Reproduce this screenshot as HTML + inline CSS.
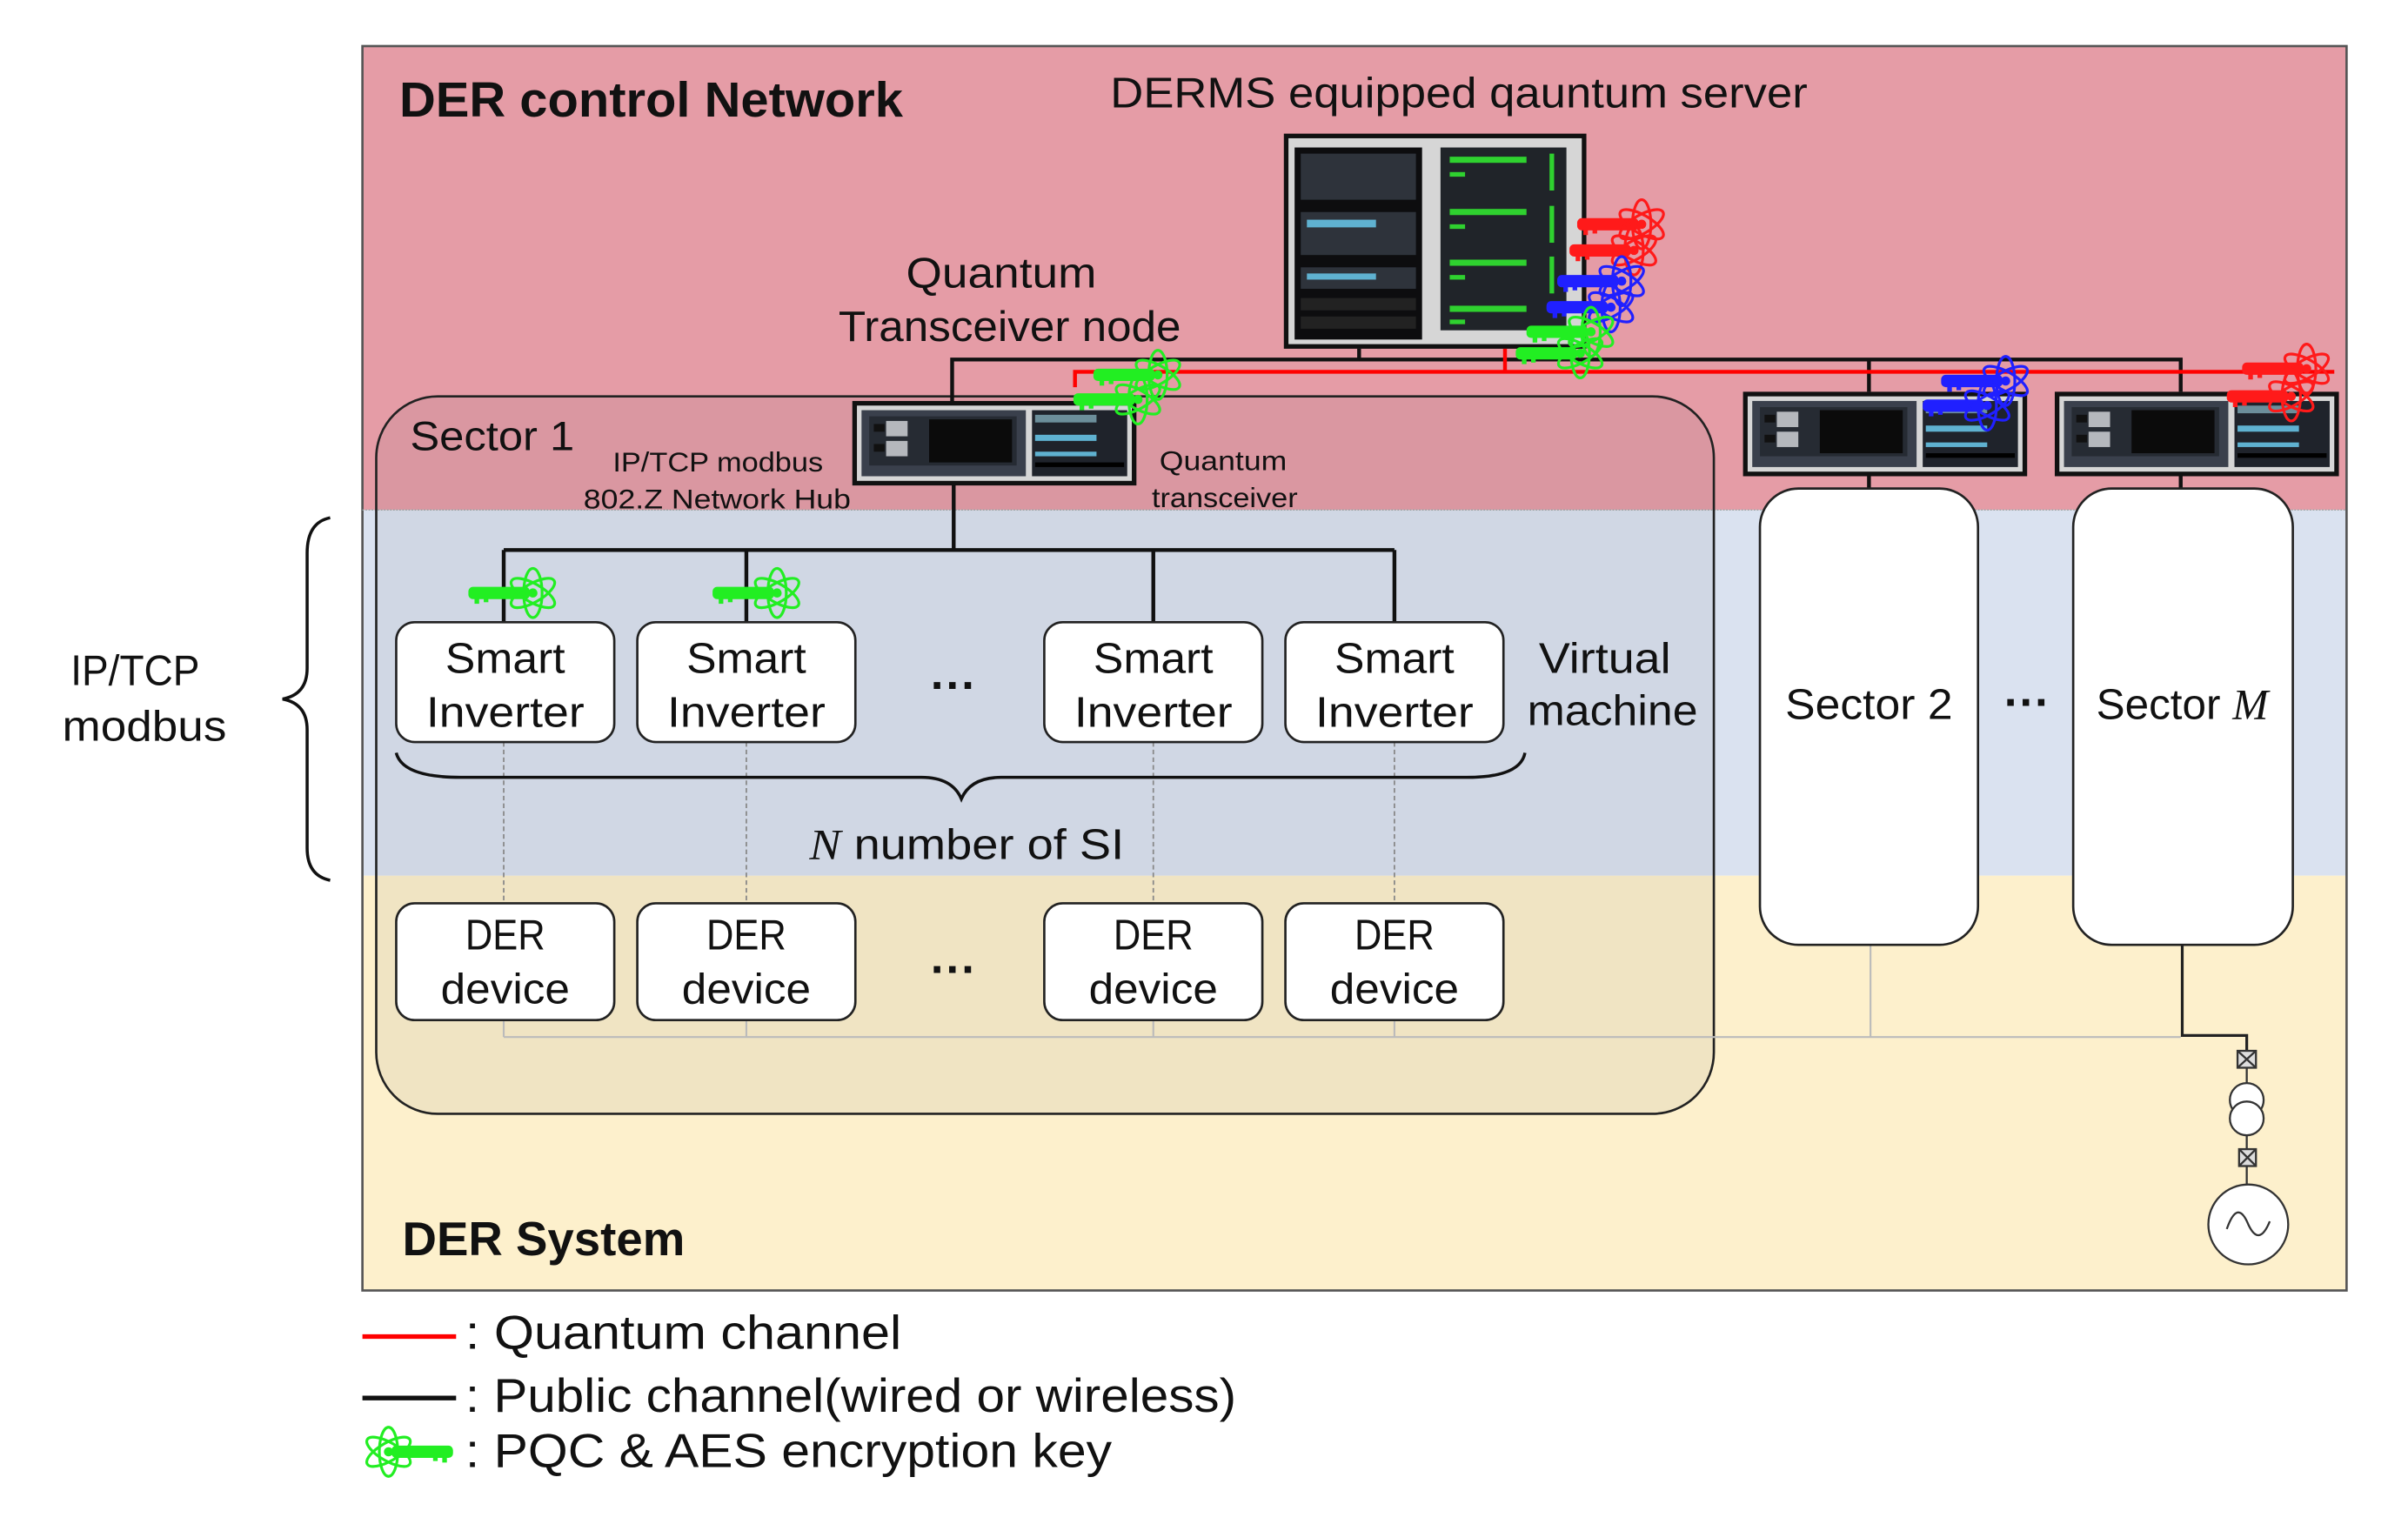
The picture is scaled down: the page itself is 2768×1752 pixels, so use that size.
<!DOCTYPE html>
<html><head><meta charset="utf-8"><style>
html,body{margin:0;padding:0;background:#fff;}
svg{display:block;}
text{font-family:"Liberation Sans","NanumGothic",sans-serif;fill:#111;}
</style></head><body>
<svg width="2768" height="1752" viewBox="0 0 1568 992" preserveAspectRatio="none" xmlns="http://www.w3.org/2000/svg">
<defs>
<g id="key">
 <rect x="2" y="14" width="40" height="8" rx="3" fill="currentColor"/>
 <rect x="6" y="21" width="3" height="4" fill="currentColor"/>
 <rect x="12" y="21" width="3" height="3" fill="currentColor"/>
 <g fill="none" stroke="currentColor" stroke-width="1.8">
  <ellipse cx="44" cy="18" rx="6" ry="16"/>
  <ellipse cx="44" cy="18" rx="6" ry="16" transform="rotate(60 44 18)"/>
  <ellipse cx="44" cy="18" rx="6" ry="16" transform="rotate(-60 44 18)"/>
 </g>
 <circle cx="44" cy="18" r="3" fill="currentColor"/>
</g>
<g id="dev">
 <rect x="0" y="0" width="185" height="55" fill="#111"/>
 <rect x="3" y="3" width="179" height="49" fill="#d6d6d6"/>
 <rect x="6" y="6" width="107" height="43" fill="#3a404c"/>
 <rect x="11" y="10" width="96" height="32" fill="#262b33"/>
 <rect x="50" y="12" width="54" height="28" fill="#0b0b0b"/>
 <rect x="14" y="15" width="7" height="5" fill="#111"/><rect x="22" y="13" width="14" height="10" fill="#b5b8bd"/>
 <rect x="14" y="28" width="7" height="5" fill="#111"/><rect x="22" y="26" width="14" height="10" fill="#b5b8bd"/>
 <rect x="117" y="6" width="62" height="43" fill="#1f232b"/>
 <rect x="119" y="9" width="40" height="5" fill="#6c8e9a"/>
 <rect x="119" y="22" width="40" height="4" fill="#5fb1d0"/>
 <rect x="119" y="33" width="40" height="3" fill="#5fb1d0"/>
 <rect x="119" y="40" width="58" height="3" fill="#000"/>
</g>
</defs>

<rect x="236" y="30" width="1292" height="302" fill="#e59ca6"/>
<rect x="236" y="332" width="1292" height="238" fill="#dae2f0"/>
<rect x="236" y="570" width="1292" height="270" fill="#fdf0cc"/>
<rect x="236" y="30" width="1292" height="810" fill="none" stroke="#555" stroke-width="1.5"/>
<line x1="236" y1="332" x2="1528" y2="332" stroke="#9aa" stroke-width="0.8" stroke-dasharray="1,1"/>

<rect x="245" y="258" width="871" height="467" rx="40" fill="#707070" fill-opacity="0.09" stroke="#222" stroke-width="1.5"/>

<g lengthAdjust="spacingAndGlyphs">
<text x="260" y="76" font-size="32" font-weight="bold" textLength="328" lengthAdjust="spacingAndGlyphs">DER control Network</text>
<text x="723" y="70" font-size="28" textLength="454" lengthAdjust="spacingAndGlyphs">DERMS equipped qauntum server</text>
<text x="590" y="187" font-size="28" textLength="124" lengthAdjust="spacingAndGlyphs">Quantum</text>
<text x="546" y="222" font-size="28" textLength="223" lengthAdjust="spacingAndGlyphs">Transceiver node</text>
</g>

<!-- server -->
<rect x="836" y="87" width="197" height="140" fill="#111"/>
<rect x="839" y="90" width="191" height="134" fill="#d6d6d6"/>
<rect x="843" y="96" width="83" height="125" fill="#0d0d0f"/>
<rect x="847" y="100" width="75" height="30" fill="#2e333b"/>
<rect x="847" y="138" width="75" height="28" fill="#2e333b"/>
<rect x="851" y="143" width="45" height="5" fill="#5fb1d0"/>
<rect x="847" y="174" width="75" height="14" fill="#2e333b"/>
<rect x="851" y="178" width="45" height="4" fill="#5fb1d0"/>
<rect x="847" y="194" width="75" height="8" fill="#222"/>
<rect x="847" y="206" width="75" height="8" fill="#222"/>
<rect x="938" y="96" width="82" height="119" fill="#202429"/>
<g fill="#2fd12f">
<rect x="944" y="102" width="50" height="4"/><rect x="944" y="112" width="10" height="3"/><rect x="1009" y="100" width="3" height="24"/>
<rect x="944" y="136" width="50" height="4"/><rect x="944" y="146" width="10" height="3"/><rect x="1009" y="134" width="3" height="24"/>
<rect x="944" y="169" width="50" height="4"/><rect x="944" y="179" width="10" height="3"/><rect x="1009" y="167" width="3" height="24"/>
<rect x="944" y="199" width="50" height="4"/><rect x="944" y="208" width="10" height="3"/>
</g>

<g stroke="#111" stroke-width="2.5" fill="none">
<polyline points="885,227 885,234 1420,234 1420,255"/>
<polyline points="620,262 620,234 885,234"/>
<line x1="1217" y1="234" x2="1217" y2="255"/>
<line x1="621" y1="315" x2="621" y2="358"/>
<line x1="328" y1="358" x2="908" y2="358"/>
<line x1="328" y1="358" x2="328" y2="405"/>
<line x1="486" y1="358" x2="486" y2="405"/>
<line x1="751" y1="358" x2="751" y2="405"/>
<line x1="908" y1="358" x2="908" y2="405"/>
<line x1="1217" y1="310" x2="1217" y2="318"/>
<line x1="1420" y1="310" x2="1420" y2="318"/>
</g>
<g stroke="#f00" stroke-width="2.5" fill="none">
<polyline points="700,252 700,242 1520,242"/>
<line x1="980" y1="227" x2="980" y2="242"/>
</g>

<use href="#dev" x="555" y="261"/>
<use href="#dev" x="1135" y="255"/>
<use href="#dev" x="1338" y="255"/>

<use href="#key" x="1025" y="128" color="#ff1a1a"/>
<use href="#key" x="1020" y="145" color="#ff1a1a"/>
<use href="#key" x="1012" y="165" color="#2020ff"/>
<use href="#key" x="1005" y="182" color="#2020ff"/>
<use href="#key" x="992" y="198" color="#22ee22"/>
<use href="#key" x="985" y="212" color="#22ee22"/>
<use href="#key" x="710" y="226" color="#22ee22"/>
<use href="#key" x="697" y="242" color="#22ee22"/>
<use href="#key" x="1262" y="230" color="#2020ff"/>
<use href="#key" x="1250" y="246" color="#2020ff"/>
<use href="#key" x="1458" y="222" color="#ff1a1a"/>
<use href="#key" x="1448" y="240" color="#ff1a1a"/>
<use href="#key" x="303" y="368" color="#22ee22"/>
<use href="#key" x="462" y="368" color="#22ee22"/>

<text x="267" y="293" font-size="27" textLength="107" lengthAdjust="spacingAndGlyphs">Sector 1</text>
<text x="399" y="307" font-size="18" textLength="137" lengthAdjust="spacingAndGlyphs">IP/TCP modbus</text>
<text x="380" y="331" font-size="18" textLength="174" lengthAdjust="spacingAndGlyphs">802.Z Network Hub</text>
<text x="755" y="306" font-size="18" textLength="83" lengthAdjust="spacingAndGlyphs">Quantum</text>
<text x="750" y="330" font-size="18" textLength="95" lengthAdjust="spacingAndGlyphs">transceiver</text>

<g stroke="#888" stroke-width="1" stroke-dasharray="3,2">
<line x1="328" y1="483" x2="328" y2="588"/><line x1="486" y1="483" x2="486" y2="588"/>
<line x1="751" y1="483" x2="751" y2="588"/><line x1="908" y1="483" x2="908" y2="588"/>
</g>
<g stroke="#bbb" stroke-width="1.2" fill="none">
<line x1="328" y1="664" x2="328" y2="675"/><line x1="486" y1="664" x2="486" y2="675"/>
<line x1="751" y1="664" x2="751" y2="675"/><line x1="908" y1="664" x2="908" y2="675"/>
<line x1="328" y1="675" x2="1420" y2="675"/>
<line x1="1218" y1="615" x2="1218" y2="675"/>
</g>
<polyline points="1421,615 1421,674 1463,674 1463,685" stroke="#222" stroke-width="1.8" fill="none"/>

<g fill="#fff" stroke="#222" stroke-width="1.5">
<rect x="258" y="405" width="142" height="78" rx="12"/>
<rect x="415" y="405" width="142" height="78" rx="12"/>
<rect x="680" y="405" width="142" height="78" rx="12"/>
<rect x="837" y="405" width="142" height="78" rx="12"/>
<rect x="258" y="588" width="142" height="76" rx="12"/>
<rect x="415" y="588" width="142" height="76" rx="12"/>
<rect x="680" y="588" width="142" height="76" rx="12"/>
<rect x="837" y="588" width="142" height="76" rx="12"/>
<rect x="1146" y="318" width="142" height="297" rx="25"/>
<rect x="1350" y="318" width="143" height="297" rx="25"/>
</g>
<g font-size="28" text-anchor="middle">
<text x="329" y="438" textLength="78" lengthAdjust="spacingAndGlyphs">Smart</text><text x="329" y="473" textLength="103" lengthAdjust="spacingAndGlyphs">Inverter</text>
<text x="486" y="438" textLength="78" lengthAdjust="spacingAndGlyphs">Smart</text><text x="486" y="473" textLength="103" lengthAdjust="spacingAndGlyphs">Inverter</text>
<text x="751" y="438" textLength="78" lengthAdjust="spacingAndGlyphs">Smart</text><text x="751" y="473" textLength="103" lengthAdjust="spacingAndGlyphs">Inverter</text>
<text x="908" y="438" textLength="78" lengthAdjust="spacingAndGlyphs">Smart</text><text x="908" y="473" textLength="103" lengthAdjust="spacingAndGlyphs">Inverter</text>
<text x="329" y="618" textLength="52" lengthAdjust="spacingAndGlyphs">DER</text><text x="329" y="653" textLength="84" lengthAdjust="spacingAndGlyphs">device</text>
<text x="486" y="618" textLength="52" lengthAdjust="spacingAndGlyphs">DER</text><text x="486" y="653" textLength="84" lengthAdjust="spacingAndGlyphs">device</text>
<text x="751" y="618" textLength="52" lengthAdjust="spacingAndGlyphs">DER</text><text x="751" y="653" textLength="84" lengthAdjust="spacingAndGlyphs">device</text>
<text x="908" y="618" textLength="52" lengthAdjust="spacingAndGlyphs">DER</text><text x="908" y="653" textLength="84" lengthAdjust="spacingAndGlyphs">device</text>
<text x="1045" y="438" textLength="86" lengthAdjust="spacingAndGlyphs">Virtual</text><text x="1050" y="472" textLength="111" lengthAdjust="spacingAndGlyphs">machine</text>
<text x="1217" y="468" textLength="109" lengthAdjust="spacingAndGlyphs">Sector 2</text>
<text x="88" y="446" textLength="84" lengthAdjust="spacingAndGlyphs">IP/TCP</text><text x="94" y="482" textLength="107" lengthAdjust="spacingAndGlyphs">modbus</text>
</g>
<text x="1365" y="468" font-size="28">Sector <tspan font-style="italic" font-family="Liberation Serif, serif">M</tspan></text>
<g font-size="30" font-weight="bold" text-anchor="middle">
<text x="621" y="456">···</text><text x="621" y="641">···</text><text x="1320" y="467">···</text>
</g>
<path d="M258,490 Q262,506 300,506 L600,506 Q620,506 626,520 Q632,506 652,506 L955,506 Q990,506 993,490" fill="none" stroke="#111" stroke-width="2"/>
<path d="M215,337 Q200,340 200,360 L200,435 Q200,452 184,455 Q200,458 200,475 L200,552 Q200,570 215,573" fill="none" stroke="#111" stroke-width="2"/>
<text x="527" y="559" font-size="28" textLength="205" lengthAdjust="spacingAndGlyphs"><tspan font-style="italic" font-family="Liberation Serif, serif">N</tspan> number of SI</text>

<g stroke="#333" stroke-width="1.3" fill="#fff">
<rect x="1457" y="684" width="12" height="11" fill="#ddd"/>
<path d="M1457,684 L1469,695 M1469,684 L1457,695" fill="none"/>
<line x1="1463" y1="695" x2="1463" y2="705"/>
<circle cx="1463" cy="716" r="11"/><circle cx="1463" cy="728" r="11"/>
<line x1="1463" y1="739" x2="1463" y2="748"/>
<rect x="1458" y="748" width="11" height="11" fill="#ddd"/>
<path d="M1458,748 L1469,759 M1469,748 L1458,759" fill="none"/>
<line x1="1463" y1="759" x2="1463" y2="771"/>
<circle cx="1464" cy="797" r="26"/>
<path d="M1450,800 Q1457,780 1464,797 Q1471,812 1478,795" fill="none"/>
</g>

<text x="262" y="817" font-size="31" font-weight="bold" textLength="184" lengthAdjust="spacingAndGlyphs">DER System</text>

<line x1="236" y1="870" x2="297" y2="870" stroke="#f00" stroke-width="3"/>
<text x="303" y="878" font-size="31" textLength="284" lengthAdjust="spacingAndGlyphs">: Quantum channel</text>
<line x1="236" y1="910" x2="297" y2="910" stroke="#111" stroke-width="3"/>
<text x="303" y="919" font-size="31" textLength="502" lengthAdjust="spacingAndGlyphs">: Public channel(wired or wireless)</text>
<g transform="translate(297,927) scale(-1,1)"><use href="#key" x="0" y="0" color="#22ee22"/></g>
<text x="303" y="955" font-size="31" textLength="421" lengthAdjust="spacingAndGlyphs">: PQC &amp; AES encryption key</text>
</svg>
</body></html>
